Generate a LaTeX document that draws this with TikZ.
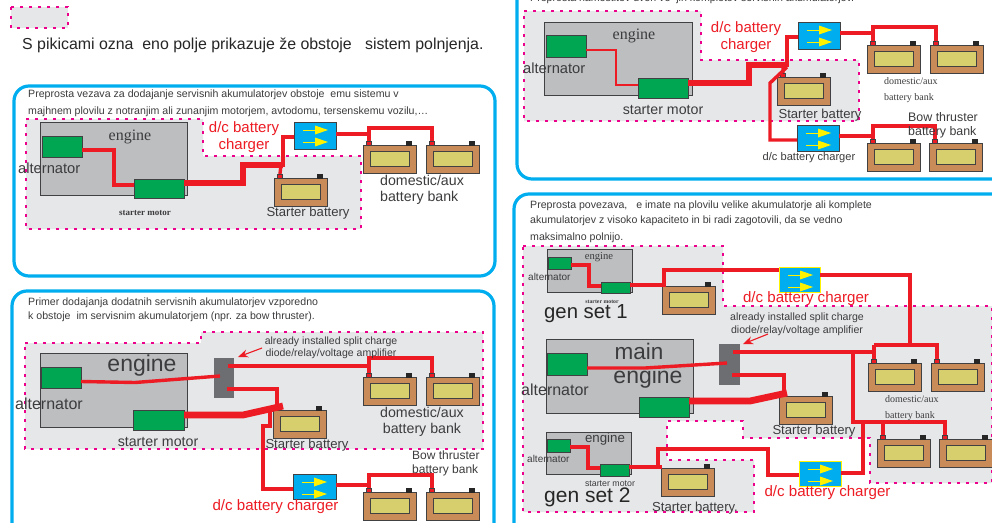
\documentclass[tikz,border=0pt]{standalone}
\usepackage{fontspec}
\setmainfont{Liberation Sans}
\newfontfamily\sfr{Liberation Serif}
\usetikzlibrary{arrows.meta}
\definecolor{panelblue}{HTML}{00AEEF}
\definecolor{zonegrey}{HTML}{E6E7E8}
\definecolor{zonedash}{HTML}{EC008C}
\definecolor{enginegrey}{HTML}{BCBEC0}
\definecolor{edgedark}{HTML}{414042}
\definecolor{motorgreen}{HTML}{00A651}
\definecolor{wirered}{HTML}{ED1C24}
\definecolor{battbrown}{HTML}{C98B57}
\definecolor{battpanel}{HTML}{D7CF6E}
\definecolor{devgrey}{HTML}{6D6E71}
\definecolor{txtdark}{HTML}{3C3C3E}
\newcommand{\fs}[1]{\fontsize{#1}{#1}\selectfont}
\tikzset{
  x=1pt,y=-1pt,
  panel/.style={draw=panelblue,line width=3.2pt,rounded corners=15pt,fill=white},
  zone/.style={fill=zonegrey,draw=zonedash,line width=1.8pt,dash pattern=on 3pt off 6pt},
  box/.style={rectangle,anchor=north west,inner sep=0pt,outer sep=0pt},
  engineblock/.style={box,fill=enginegrey,draw=edgedark,line width=.9pt},
  motorblock/.style={box,fill=motorgreen,draw=edgedark,line width=.9pt},
  devblock/.style={box,fill=devgrey,draw=devgrey,line width=.5pt},
  lab/.style={inner sep=0pt,text=txtdark,align=center},
  labl/.style={inner sep=0pt,text=txtdark,align=left,anchor=west},
  redlab/.style={inner sep=0pt,text=wirered,align=center},
  wire/.style={draw=wirered,line width=3.4pt,line join=miter},
  thinwire/.style={draw=wirered,line width=2.2pt},
  fatwire/.style={draw=wirered,line width=6.8pt},
  callout/.style={draw=wirered,line width=1.1pt,-{Stealth[length=10pt,width=8pt]}},
}
\newcommand{\batt}[3]{%
  \node[box,minimum width=53pt,minimum height=28pt,fill=battbrown,draw=edgedark,line width=.9pt] (#1) at (#2,#3) {};
  \node[box,minimum width=39pt,minimum height=15pt,fill=battpanel,draw=edgedark,line width=.9pt] (#1i) at (#2+7,#3+6.5) {};
  \node[box,minimum width=4.5pt,minimum height=4pt,fill=wirered,draw=edgedark,line width=.5pt] (#1p) at (#2+3.7,#3-4) {};
  \node[box,minimum width=5pt,minimum height=4pt,fill=black!85,draw=black!85,line width=.3pt] (#1n) at (#2+43.5,#3-4) {};
}
\newcommand{\battnop}[3]{%
  \node[box,minimum width=53pt,minimum height=28pt,fill=battbrown,draw=edgedark,line width=.9pt] (#1) at (#2,#3) {};
  \node[box,minimum width=39pt,minimum height=15pt,fill=battpanel,draw=edgedark,line width=.9pt] (#1i) at (#2+7,#3+6.5) {};
  \node[box,minimum width=5pt,minimum height=4pt,fill=black!85,draw=black!85,line width=.3pt] (#1n) at (#2+43.5,#3-4) {};
}
\newcommand{\chg}[6]{%
  \node[box,minimum width=#4pt,minimum height=#5pt,fill=panelblue,draw=#6,line width=1pt] (#1) at (#2,#3) {};
  \draw[yellow,line width=.7pt] (#2+9,#3+8) -- (#2+24,#3+8);
  \fill[yellow] (#2+21,#3+3.5) -- (#2+34,#3+8) -- (#2+21,#3+12.5) -- cycle;
  \draw[yellow,line width=.7pt] (#2+9,#3+20) -- (#2+24,#3+20);
  \fill[yellow] (#2+21,#3+15.5) -- (#2+34,#3+20) -- (#2+21,#3+24.5) -- cycle;
}
\begin{document}
\begin{tikzpicture}
\useasboundingbox (0,0) rectangle (992,522);
\begin{scope}
\clip (0,0) rectangle (992,522);
\fill[white] (0,0) rectangle (992,522);

% ---------- legend
\path[zone] (11,7) rectangle (68,28);
\node[labl,text=black!85] (legend) at (22,45) {\fs{15.9}S pikicami ozna\ \ eno polje prikazuje že obstoje\ \ \ sistem polnjenja.};

% ---------- panel outlines
\path[panel] (14,86) rectangle (495,276);
\path[panel] (12,291) rectangle (494,540);
\path[panel] (517,-30) rectangle (1010,179);
\path[panel] (514,194) rectangle (1010,540);

% ========== PANEL 1
\node[labl] (p1a) at (28,95) {\fs{10.6}Preprosta vezava za dodajanje servisnih akumulatorjev obstoje\ \ emu sistemu v};
\node[labl] (p1b) at (28,112) {\fs{10.6}majhnem plovilu z notranjim ali zunanjim motorjem, avtodomu, tersenskemu vozilu,…};
\path[zone] (26,119) -- (203,119) -- (203,156) -- (361,156) -- (361,229) -- (26,229) -- cycle;
\node[engineblock,minimum width=147pt,minimum height=73pt] (e1) at (40,122) {};
\node[lab] (e1t) at (130,137) {\fs{16}\sfr engine};
\node[motorblock,minimum width=40pt,minimum height=21pt] (a1) at (42,136) {};
\node[motorblock,minimum width=50pt,minimum height=19pt] (s1) at (134,179) {};
\node[labl] (a1t) at (18,168) {\fs{14.7}alternator};
\node[lab] (s1t) at (145,213) {\fs{9}\sfr\bfseries starter motor};
\batt{b1s}{274}{178}
\chg{c1}{294}{122}{42}{27}{edgedark}
\batt{b1a}{363}{145}
\batt{b1b}{426}{145}
\coordinate (j1) at (b1ap.north |- 0,128);
\draw[wire] (a1.east |- 0,150) -- (114,150) -- (114,185) -- (s1.west |- 0,185);
\draw[fatwire] (s1.east |- 0,183) -- (243,183) -- (243,165) -- (283,165);
\draw[wire] (281,165) -- (b1sp.north);
\draw[wire] (c1.west |- 0,137) -- (283,137) -- (283,167);
\draw[wire] (c1.east |- 0,134) -| (j1) -| (b1bp.north);
\draw[wire] (j1) -- (b1ap.north);
\node[redlab] (d1t) at (244,137) {\fs{15}d/c battery\\[2pt]\fs{15}charger};
\node[lab] (b1st) at (308,213) {\fs{13.1}Starter battery};
\node[labl,align=left] (b1at) at (380,190) {\fs{14.2}domestic/aux\\[4pt]\fs{14.2}battery bank};

% ========== PANEL 2
\node[labl] (p2a) at (28,303) {\fs{10.6}Primer dodajanja dodatnih servisnih akumulatorjev vzporedno};
\node[labl] (p2b) at (28,317) {\fs{10.6}k obstoje\ \ im servisnim akumulatorjem (npr. za bow thruster).};
\path[zone] (25,343) -- (201,343) -- (201,332) -- (483,332) -- (483,449) -- (25,449) -- cycle;
\node[engineblock,minimum width=147pt,minimum height=74pt] (e2) at (40,353) {};
\node[lab] (e2t) at (142,366) {\fs{23}engine};
\node[motorblock,minimum width=40pt,minimum height=21pt] (a2) at (41,367) {};
\node[motorblock,minimum width=51pt,minimum height=20pt] (s2) at (133,410) {};
\node[labl] (a2t) at (15,404) {\fs{16}alternator};
\node[lab] (s2t) at (158,442) {\fs{14.2}starter motor};
\node[devblock,minimum width=19pt,minimum height=39pt] (d2) at (214,358) {};
\battnop{b2s}{273}{410}
\batt{b2a}{363}{377}
\batt{b2b}{426}{377}
\batt{b2c}{363}{492}
\batt{b2d}{426}{492}
\chg{c2}{293}{474}{43}{25}{edgedark}
\coordinate (j2a) at (b2ap.north |- 0,358);
\coordinate (j2b) at (b2cp.north |- 0,475);
\draw[wire] (a2.east |- 0,381.5) -- (135,382.5) -- (220,376);
\draw[wire] (228,366) -| (j2a) -| (b2bp.north);
\draw[wire] (j2a) -- (b2ap.north);
\draw[wire] (227,389) -- (277,389) -- (277,406);
\draw[fatwire] (s2.east |- 0,415) -- (243,415) -- (283,406);
\draw[wire] (270,411) -- (270,426) -- (263,426) -- (263,489) -- (c2.west |- 0,489);
\draw[wire] (c2.east |- 0,485) -| (j2b) -| (b2dp.north);
\draw[wire] (j2b) -- (b2cp.north);
\coordinate (tip2) at (238,357);
\draw[callout] (262,348) -- (tip2);
\node[lab] (d2t) at (331,348) {\fs{10.5}already installed split charge\\\fs{10.5}diode/relay/voltage amplifier};
\node[lab] (b2st) at (307,445) {\fs{13.1}Starter battery};
\node[lab] (b2at) at (422,422) {\fs{14.2}domestic/aux\\[3.5pt]\fs{14.2}battery bank};
\node[labl,align=left] (b2ct) at (412,463) {\fs{12}Bow thruster\\[2pt]\fs{12}battery bank};
\node[redlab] (c2t) at (275.5,507) {\fs{15.1}d/c battery charger};

% ========== PANEL 3
\node[labl] (p3a) at (530,-1) {\fs{10.6}Preprosta namestitev dveh ve\ \ jih kompletov servisnih akumulatorjev.};
\path[zone] (524,11) -- (701,11) -- (701,60) -- (859,60) -- (859,121) -- (524,121) -- cycle;
\node[engineblock,minimum width=148pt,minimum height=73pt] (e3) at (544,22) {};
\node[lab] (e3t) at (634,36) {\fs{16}\sfr engine};
\node[motorblock,minimum width=40pt,minimum height=22pt] (a3) at (546,35) {};
\node[motorblock,minimum width=50pt,minimum height=20pt] (s3) at (638,78) {};
\node[labl] (a3t) at (523,68) {\fs{14.7}alternator};
\node[lab] (s3t) at (663,110) {\fs{14.2}starter motor};
\batt{b3s}{777}{77}
\chg{c3a}{798}{22}{42}{27}{edgedark}
\chg{c3b}{797}{125}{42}{26}{edgedark}
\batt{b3a}{867}{45}
\batt{b3b}{930}{45}
\batt{b3c}{867}{143}
\batt{b3d}{929}{143}
\coordinate (j3a) at (b3ap.north |- 0,27);
\coordinate (j3b) at (b3cp.north |- 0,126);
\draw[thinwire] (a3.east |- 0,50) -- (616,50) -- (616,85) -- (s3.west |- 0,85);
\draw[fatwire] (688,83) -- (749,83) -- (749,65) -- (786,65);
\draw[wire] (b3sp.north) -- (783,65);
\draw[wire] (c3a.west |- 0,37) -- (787,37) -- (787,67);
\draw[wire] (787,67) -- (770,83) -- (770,140) -- (c3b.west |- 0,140);
\draw[wire] (c3a.east |- 0,33) -| (j3a) -| (b3bp.north);
\draw[wire] (j3a) -- (b3ap.north);
\draw[wire] (c3b.east |- 0,136) -| (j3b) -| (b3dp.north);
\draw[wire] (j3b) -- (b3cp.north);
\node[redlab] (c3at) at (746,37) {\fs{15}d/c battery\\[2pt]\fs{15}charger};
\node[lab] (b3st) at (820,115) {\fs{13.1}Starter battery};
\node[lab] (c3bt) at (809,158) {\fs{11.1}d/c battery charger};
\node[labl,align=left] (b3at) at (884,90) {\fs{10}\sfr domestic/aux\\[4pt]\fs{10}\sfr battery bank};
\node[labl,align=left] (b3ct) at (908,125) {\fs{12.4}Bow thruster\\[2pt]\fs{12.4}battery bank};

% ========== PANEL 4
\node[labl] (p4a) at (530,206) {\fs{10.6}Preprosta povezava,\ \ \ e imate na plovilu velike akumulatorje ali komplete};
\node[labl] (p4b) at (530,221) {\fs{10.6}akumulatorjev z visoko kapaciteto in bi radi zagotovili, da se vedno};
\node[labl] (p4c) at (530,238) {\fs{10.6}maksimalno polnijo.};
\path[zone] (523,246) -- (723,246) -- (723,306) -- (992,306) -- (992,483) -- (870,483) -- (870,438) -- (743,438) -- (743,421) -- (667,421) -- (667,460) -- (754,460) -- (754,512) -- (523,512) -- cycle;
% gen set 1
\node[engineblock,minimum width=85pt,minimum height=43pt] (e4a) at (547,249) {};
\node[lab] (e4at) at (599,257) {\fs{10.6}\sfr engine};
\node[motorblock,minimum width=23pt,minimum height=12pt] (a4a) at (548,257) {};
\node[motorblock,minimum width=29pt,minimum height=11pt] (s4a) at (601,282) {};
\node[labl] (a4at) at (528,277) {\fs{10}alternator};
\node[lab] (s4at) at (602,302) {\fs{5.8}\sfr\bfseries starter motor};
\node[labl,text=black!85] (g1) at (544,314) {\fs{20.3}gen set 1};
\battnop{b4g1}{662}{286}
\chg{c4a}{779}{267}{41}{25}{yellow}
% main engine
\node[engineblock,minimum width=147pt,minimum height=74pt] (e4) at (546,339) {};
\node[lab] (e4t1) at (639,351) {\fs{22.5}main};
\node[lab] (e4t2) at (648,378) {\fs{23}engine};
\node[motorblock,minimum width=40pt,minimum height=22pt] (a4) at (547,353) {};
\node[motorblock,minimum width=50pt,minimum height=20pt] (s4) at (639,397) {};
\node[labl] (a4t) at (521,390) {\fs{16}alternator};
\node[devblock,minimum width=20pt,minimum height=40pt] (d4) at (719,344) {};
\battnop{b4s}{779}{396}
\batt{b4a}{868}{363}
\batt{b4b}{931}{363}
\batt{b4c}{877}{439}
\batt{b4d}{939}{439}
% gen set 2
\node[engineblock,minimum width=85pt,minimum height=42pt] (e4b) at (546,432) {};
\node[lab] (e4bt) at (605,439) {\fs{13.3}engine};
\node[motorblock,minimum width=23pt,minimum height=13pt] (a4b) at (547,439) {};
\node[motorblock,minimum width=29pt,minimum height=12pt] (s4b) at (600,464) {};
\node[labl] (a4bt) at (527,459) {\fs{10}alternator};
\node[lab] (s4bt) at (610,484) {\fs{8.8}starter motor};
\node[labl,text=black!85] (g2) at (544,497) {\fs{21}gen set 2};
\battnop{b4g2}{661}{468}
\chg{c4b}{799}{461}{42}{25}{yellow}
% wires
\coordinate (j4a) at (910,345);
\coordinate (j4b) at (b4ap.north |- 0,345);
\coordinate (j4c) at (853,352);
\coordinate (j4d) at (853,422);
\coordinate (j4e) at (b4cp.north |- 0,422);
\coordinate (j4f) at (863,422);
\draw[wire] (a4a.east |- 0,265) -- (589,265) -- (589,286) -- (s4a.west |- 0,286);
\draw[wire] (s4a.east |- 0,285) -- (664,285) -- (664,270) -- (c4a.west |- 0,270);
\draw[wire] (c4a.east |- 0,275) -- (910,275) -- (j4a);
\draw[wire] (j4b) -| (b4bp.north);
\draw[wire] (j4b) -- (b4ap.north);
\draw[wire] (733,352) -- (j4b |- 0,352) -- (j4b);
\draw[wire] (j4c) -- (j4d) -- (j4e) -| (b4dp.north);
\draw[wire] (j4e) -- (b4cp.north);
\draw[wire] (j4f) -- (863,473) -- (c4b.east |- 0,473);
\draw[wire] (c4b.west |- 0,475) -- (768,475) -- (768,449) -- (658,449) -- (658,467);
\draw[wire] (a4.east |- 0,368) -- (645,368) -- (727,363);
\draw[wire] (a4b.east |- 0,447) -- (588,447) -- (588,468) -- (s4b.west |- 0,468);
\draw[wire] (s4b.east |- 0,467) -- (662,467);
\draw[wire] (732,375) -- (784,375) -- (784,393);
\draw[fatwire] (s4.east |- 0,401) -- (750,401) -- (787,393);
\coordinate (tip4) at (743,344);
\draw[callout] (768,334) -- (tip4);
\node[lab] (d4t) at (797,324) {\fs{10.6}already installed split charge\\[1pt]\fs{10.6}diode/relay/voltage amplifier};
\node[redlab] (c4at) at (806,299) {\fs{15.1}d/c battery charger};
\node[redlab] (c4bt) at (827.5,493) {\fs{15.1}d/c battery charger};
\node[lab] (b4st) at (814,431) {\fs{13.1}Starter battery};
\node[lab] (b4g2t) at (695,508) {\fs{13.1}Starter battery.};
\node[labl,align=left] (b4at) at (885,408) {\fs{10}\sfr domestic/aux\\[4pt]\fs{10}\sfr battery bank};
\end{scope}
\end{tikzpicture}
\end{document}
